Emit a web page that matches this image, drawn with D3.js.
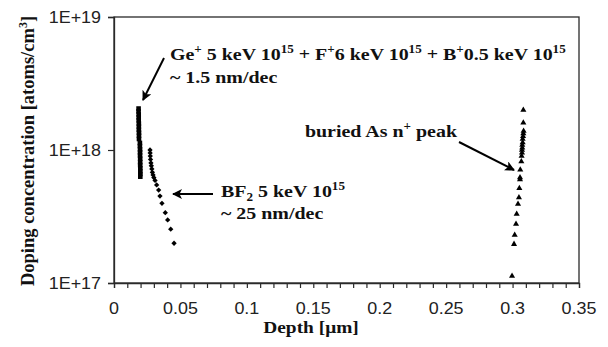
<!DOCTYPE html>
<html><head><meta charset="utf-8">
<script src="https://cdn.jsdelivr.net/npm/d3@7"></script>
<style>body{margin:0;background:#fff}svg{display:block}</style>
</head><body>
<svg id="c" width="608" height="347"></svg>
<script>
// ---- data ----
const xTickValues = [0, 0.05, 0.1, 0.15, 0.2, 0.25, 0.3, 0.35];
const xTickLabels = ["0", "0.05", "0.1", "0.15", "0.2", "0.25", "0.3", "0.35"];
const yTickValues = [1e17, 1e18, 1e19];
const yTickLabels = ["1E+17", "1E+18", "1E+19"];

// Ge+ 5 keV + F+ + B+ (squares, dense -> thick bar)
const geDepth = [0.0185,0.0185,0.0186,0.0186,0.0186,0.0187,0.0187,0.0187,0.0188,0.0188,0.0188,
                 0.0195,0.0195,0.0196,0.0196,0.0196,0.0197,0.0197,0.0197,0.0198,0.0198,0.0198,0.0198];
const geConc  = [2.05e18,1.95e18,1.85e18,1.76e18,1.67e18,1.58e18,1.50e18,1.42e18,1.35e18,1.28e18,1.21e18,
                 1.13e18,1.07e18,1.01e18,9.6e17,9.1e17,8.6e17,8.1e17,7.7e17,7.3e17,6.9e17,6.6e17,6.3e17];

// BF2 5 keV (diamonds)
const bf2Depth = [0.0271,0.0272,0.0273,0.0275,0.0278,0.0281,0.0285,0.0289,0.0294,0.0300,0.0309,
                  0.0321,0.0336,0.0346,0.0361,0.0386,0.0404,0.0427,0.0452];
const bf2Conc  = [1.0e18,9.5e17,9.0e17,8.5e17,8.0e17,7.6e17,7.2e17,6.8e17,6.5e17,6.2e17,5.9e17,
                  5.46e17,5.0e17,4.5e17,3.97e17,3.38e17,2.98e17,2.54e17,1.99e17];

// buried As n+ peak (triangles)
const asDepth = [0.3081,0.3081,0.3083,0.3081,0.3079,0.3076,0.3076,0.3073,0.3073,0.3071,0.3071,0.3068,
                 0.3066,0.3058,0.3056,0.3056,0.3051,0.3048,0.3041,0.3031,0.3026,0.3016,0.3011,0.2996];
const asConc  = [2.0e18,1.6e18,1.39e18,1.33e18,1.27e18,1.21e18,1.14e18,1.09e18,1.04e18,1.0e18,9.55e17,9.0e17,
                 8.2e17,7.1e17,6.2e17,6.0e17,5.15e17,4.4e17,3.93e17,3.3e17,2.78e17,2.3e17,1.96e17,1.13e17];

// ---- layout ----
const W = 608, H = 347;
const m = {left: 114, right: 29, top: 17, bottom: 64};
const svg = d3.select("#c");
const x = d3.scaleLinear().domain([0, 0.35]).range([m.left, W - m.right]);
const y = d3.scaleLog().domain([1e17, 1e19]).range([H - m.bottom, m.top]);

const axisColor = "#2a2a2a";
const serif = "'Liberation Serif','Times New Roman',serif";
const sans = "'Liberation Sans',Arial,sans-serif";
const SX = 1.14; // horizontal stretch of the reference picture

// plot frame
svg.append("rect").attr("x", x(0)).attr("y", y(1e19))
  .attr("width", x(0.35) - x(0)).attr("height", y(1e17) - y(1e19))
  .attr("fill", "none").attr("stroke", axisColor).attr("stroke-width", 1.3);

// x axis (minor ticks every 0.01)
const xAxis = d3.axisBottom(x).tickValues(d3.range(0, 36).map(i => i / 100))
  .tickSize(5).tickFormat("");
const gx = svg.append("g").attr("transform", `translate(0,${y(1e17)})`).call(xAxis);
gx.select(".domain").attr("stroke", axisColor).attr("stroke-width", 1.3);
gx.selectAll(".tick line").attr("stroke", axisColor).attr("stroke-width", 1.2);
svg.append("g").selectAll("text").data(xTickValues).join("text")
  .attr("transform", d => `translate(${x(d)},${y(1e17) + 31}) scale(1.12,1)`)
  .attr("text-anchor", "middle").attr("font-family", sans).attr("font-size", 16)
  .attr("fill", "#222").text((d, i) => xTickLabels[i]);

// y axis
const yAxis = d3.axisLeft(y).tickValues(yTickValues).tickSize(6).tickFormat("");
const gy = svg.append("g").attr("transform", `translate(${x(0)},0)`).call(yAxis);
gy.select(".domain").attr("stroke", axisColor).attr("stroke-width", 1.3);
gy.selectAll(".tick line").attr("stroke", axisColor).attr("stroke-width", 1.2);
svg.append("g").selectAll("text").data(yTickValues).join("text")
  .attr("transform", d => `translate(101,${y(d) + 6}) scale(1.12,1)`)
  .attr("text-anchor", "end").attr("font-family", sans).attr("font-size", 16)
  .attr("fill", "#222").text((d, i) => yTickLabels[i]);

// axis titles
svg.append("text").attr("transform", `translate(311,333) scale(${SX},1)`).attr("text-anchor", "middle")
  .attr("font-family", serif).attr("font-weight", "bold").attr("font-size", 17)
  .attr("fill", "#111").text("Depth [\u03bcm]");
const yt = svg.append("text").attr("transform", `translate(34,${(y(1e17) + y(1e19)) / 2 + 1}) rotate(-90)`)
  .attr("text-anchor", "middle").attr("font-family", serif).attr("font-weight", "bold")
  .attr("font-size", 18.5).attr("fill", "#111");
yt.append("tspan").text("Doping concentration [atoms/cm");
yt.append("tspan").attr("dy", -7).attr("font-size", 12).text("3");
yt.append("tspan").attr("dy", 7).text("]");

// ---- marks ----
svg.append("g").selectAll("rect").data(geDepth).join("rect")
  .attr("x", (d) => x(d) - 2.3).attr("y", (d, i) => y(geConc[i]) - 2.3)
  .attr("width", 4.6).attr("height", 4.6).attr("fill", "#000");

const diamond = d3.symbol().type(d3.symbolSquare).size(14);
svg.append("g").selectAll("path").data(bf2Depth).join("path")
  .attr("d", diamond)
  .attr("transform", (d, i) => `translate(${x(d)},${y(bf2Conc[i])}) rotate(45)`)
  .attr("fill", "#000");

const tri = d3.symbol().type(d3.symbolTriangle).size(16);
svg.append("g").selectAll("path").data(asDepth).join("path")
  .attr("d", tri)
  .attr("transform", (d, i) => `translate(${x(d)},${y(asConc[i])})`)
  .attr("fill", "#000");

// ---- annotations ----
const defs = svg.append("defs");
defs.append("marker").attr("id", "ah").attr("viewBox", "0 0 10 10")
  .attr("refX", 9).attr("refY", 5).attr("markerWidth", 5).attr("markerHeight", 5)
  .attr("orient", "auto").attr("markerUnits", "strokeWidth")
  .append("path").attr("d", "M0,0 L10,5 L0,10 L2.5,5 Z").attr("fill", "#000");

function arrow(x1, y1, x2, y2) {
  svg.append("line").attr("x1", x1).attr("y1", y1).attr("x2", x2).attr("y2", y2)
    .attr("stroke", "#000").attr("stroke-width", 2).attr("marker-end", "url(#ah)");
}
function label(xp, yp, parts, anchor) {
  const t = svg.append("text").attr("transform", `translate(${xp},${yp}) scale(${SX},1)`)
    .attr("text-anchor", anchor || "start")
    .attr("font-family", serif).attr("font-weight", "bold").attr("font-size", 17.5).attr("fill", "#111");
  parts.forEach(p => {
    const s = t.append("tspan").text(p.t);
    if (p.sup) s.attr("dy", -7).attr("font-size", 11.5);
    if (p.sub) s.attr("dy", 4).attr("font-size", 11.5);
    if (p.back) s.attr("dy", p.back);
  });
  return t;
}
label(170, 60, [{t: "Ge"}, {t: "+", sup: 1}, {t: " 5 keV 10", back: 7}, {t: "15", sup: 1},
  {t: " + F", back: 7}, {t: "+", sup: 1}, {t: "6 keV 10", back: 7}, {t: "15", sup: 1},
  {t: " + B", back: 7}, {t: "+", sup: 1}, {t: "0.5 keV 10", back: 7}, {t: "15", sup: 1}]);
label(170, 83, [{t: "~ 1.5 nm/dec"}]);
arrow(164, 58, 143, 100);

label(221, 197, [{t: "BF"}, {t: "2", sub: 1}, {t: " 5 keV 10", back: -4}, {t: "15", sup: 1}]);
label(221, 219, [{t: "~ 25 nm/dec"}]);
arrow(213, 194, 173, 194);

label(457, 137, [{t: "buried As n"}, {t: "+", sup: 1}, {t: " peak", back: 7}], "end");
arrow(459, 142, 514, 170);
</script>
</body></html>
